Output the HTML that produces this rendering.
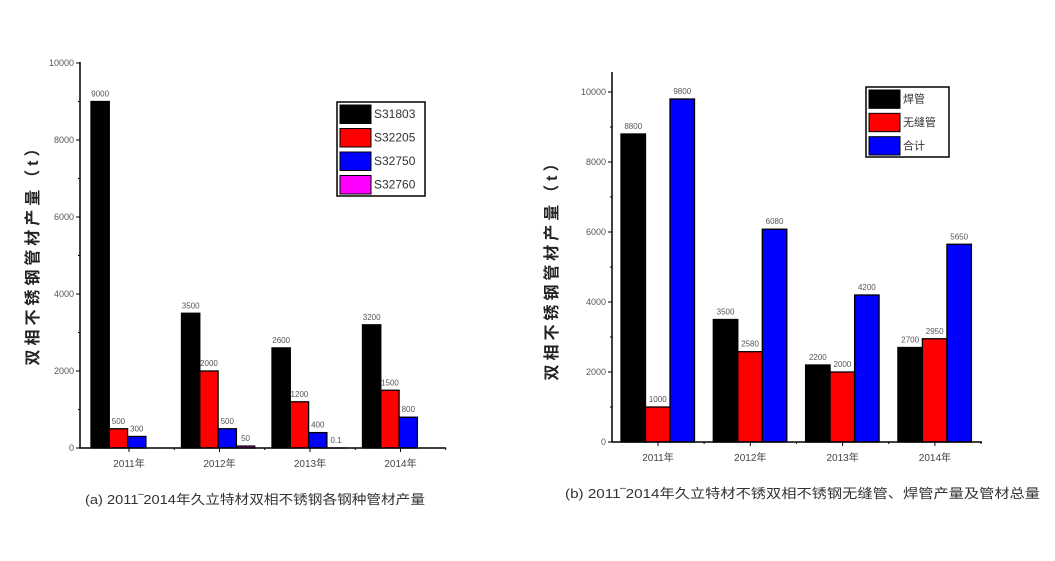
<!DOCTYPE html>
<html><head><meta charset="utf-8"><style>
body{margin:0;background:#fff;width:1055px;height:556px;overflow:hidden;font-family:"Liberation Sans","Noto Sans CJK SC",sans-serif}
svg text{font-family:"Liberation Sans","Noto Sans CJK SC",sans-serif}
</style></head><body>
<svg id="c" width="1055" height="556"></svg>
<script>
const catsA=["2011年","2012年","2013年","2014年"];
const seriesNamesA=["S31803","S32205","S32750","S32760"];
const s31803=[9000,3500,2600,3200];
const s32205=[500,2000,1200,1500];
const s32750=[300,500,400,800];
const s32760=[0,50,0.1,0];
const labelsA=[["9000","3500","2600","3200"],["500","2000","1200","1500"],["300","500","400","800"],["","50","0.1",""]];
const ticksA=[0,2000,4000,6000,8000,10000];
const catsB=["2011年","2012年","2013年","2014年"];
const seriesNamesB=["焊管","无缝管","合计"];
const weld=[8800,3500,2200,2700];
const seamless=[1000,2580,2000,2950];
const total=[9800,6080,4200,5650];
const ticksB=[0,2000,4000,6000,8000,10000];
const colors=["#000","#f00","#00f","#f0f"];
const NS="http://www.w3.org/2000/svg";
const svg=document.getElementById('c');
function mk(t,a,p){const e=document.createElementNS(NS,t);for(const k in a)e.setAttribute(k,a[k]);(p||svg).appendChild(e);return e;}
function txt(s,x,y,sz,anc,fill,p){const e=mk('text',{x:x,y:y,'font-size':sz,'text-anchor':anc||'middle',fill:fill||'#444'},p);e.textContent=s;return e;}

function chart(o){
  const g=mk('g',{});
  
  
  const y=v=>o.y0-(v/10000)*(o.y0-o.y10k);
  o.series.forEach((arr,si)=>{
    arr.forEach((v,ci)=>{
      const x=o.gx0+ci*o.gstep+si*o.bw;
      const r=mk('rect',{x:x,y:y(v),width:o.bw,height:Math.max(o.y0-y(v),0),fill:colors[si],stroke:'#000','stroke-width':1.3},g);
      
      
      const lab=o.labels[si][ci];
      if(lab!==""){const t=txt(lab,x+o.bw/2,y(v)-5,8,'middle','#555',g);
        
        }
    });
  });
  const ax=mk('path',{d:`M${o.ax} ${o.ytop} V${o.y0} H${o.axEnd}`,stroke:'#000','stroke-width':1.5,fill:'none'},g);
  
  
  o.ticks.forEach(t=>{
    mk('line',{x1:o.ax-4,x2:o.ax,y1:y(t),y2:y(t),stroke:'#000'},g);
    if(t<10000) mk('line',{x1:o.ax-2,x2:o.ax,y1:y(t+1000),y2:y(t+1000),stroke:'#000'},g);
    const l=txt(String(t),o.ax-6,y(t)+3,9,'end','#555',g);
    
    
  });
  o.cats.forEach((c,ci)=>{
    const cx=o.gx0+ci*o.gstep+o.ctr;
    mk('line',{x1:cx,x2:cx,y1:o.y0,y2:o.y0+4,stroke:'#000'},g);
    mk('line',{x1:cx+o.gstep/2,x2:cx+o.gstep/2,y1:o.y0,y2:o.y0+2,stroke:'#000'},g);
    const l=txt(c,cx,o.y0+19,10,'middle','#444',g);
    
    
  });
  const yl=txt(o.ylabel,0,0,16,'middle','#222',g);
  yl.setAttribute('transform',`translate(${o.ylx},${o.yly}) rotate(-90)`);
  yl.setAttribute('font-family','"Liberation Serif","Noto Serif CJK SC",serif');
  yl.setAttribute('font-weight','bold');
  yl.setAttribute('textLength',o.ylen);
  
  
  const cap=txt(o.caption,o.capx,o.capy,13,'start','#333',g);
  cap.setAttribute('textLength',o.caplen);
  cap.setAttribute('lengthAdjust','spacingAndGlyphs');
  
  
  const lg=mk('g',{},g);
  
  
  mk('rect',{x:o.lx,y:o.ly,width:o.lw,height:o.lh,fill:'#fff',stroke:'#000','stroke-width':1.5},lg);
  const rh=o.lh/o.snames.length;
  o.snames.forEach((n,i)=>{
    const e=mk('rect',{x:o.lx+3,y:o.ly+3+i*rh,width:o.sw,height:rh-5,fill:colors[i],stroke:'#000'},lg);
    
    
    txt(n,o.lx+o.sw+6,o.ly+i*rh+rh/2+4,o.lfs,'start','#333',lg);
  });
}
chart({name:'chart-a',series:[s31803,s32205,s32750,s32760],snames:seriesNamesA,cats:catsA,labels:labelsA,ticks:ticksA,
  y0:448,y10k:63,ytop:62,ax:80,axEnd:446,gx0:91,gstep:90.5,bw:18.3,ctr:38,
  ylabel:"双相不锈钢管材产量（t）",ylx:38,yly:253,ylen:225,caption:"(a) 2011‾2014年久立特材双相不锈钢各钢种管材产量",capx:85,capy:504,caplen:340,
  lx:337,ly:102,lw:88,lh:94,sw:31,lfs:12});
chart({name:'chart-b',series:[weld,seamless,total],snames:seriesNamesB,cats:catsB,
  labels:[weld.map(String),seamless.map(String),total.map(String)],ticks:ticksB,
  y0:442,y10k:92,ytop:72,ax:612,axEnd:982,gx0:621,gstep:92.3,bw:24.5,ctr:37,
  ylabel:"双相不锈钢管材产量（t）",ylx:557,yly:268,ylen:225,caption:"(b) 2011‾2014年久立特材不锈双相不锈钢无缝管、焊管产量及管材总量",capx:565,capy:498,caplen:475,
  lx:866,ly:87,lw:83,lh:70,sw:31,lfs:11});
</script>
</body></html>
